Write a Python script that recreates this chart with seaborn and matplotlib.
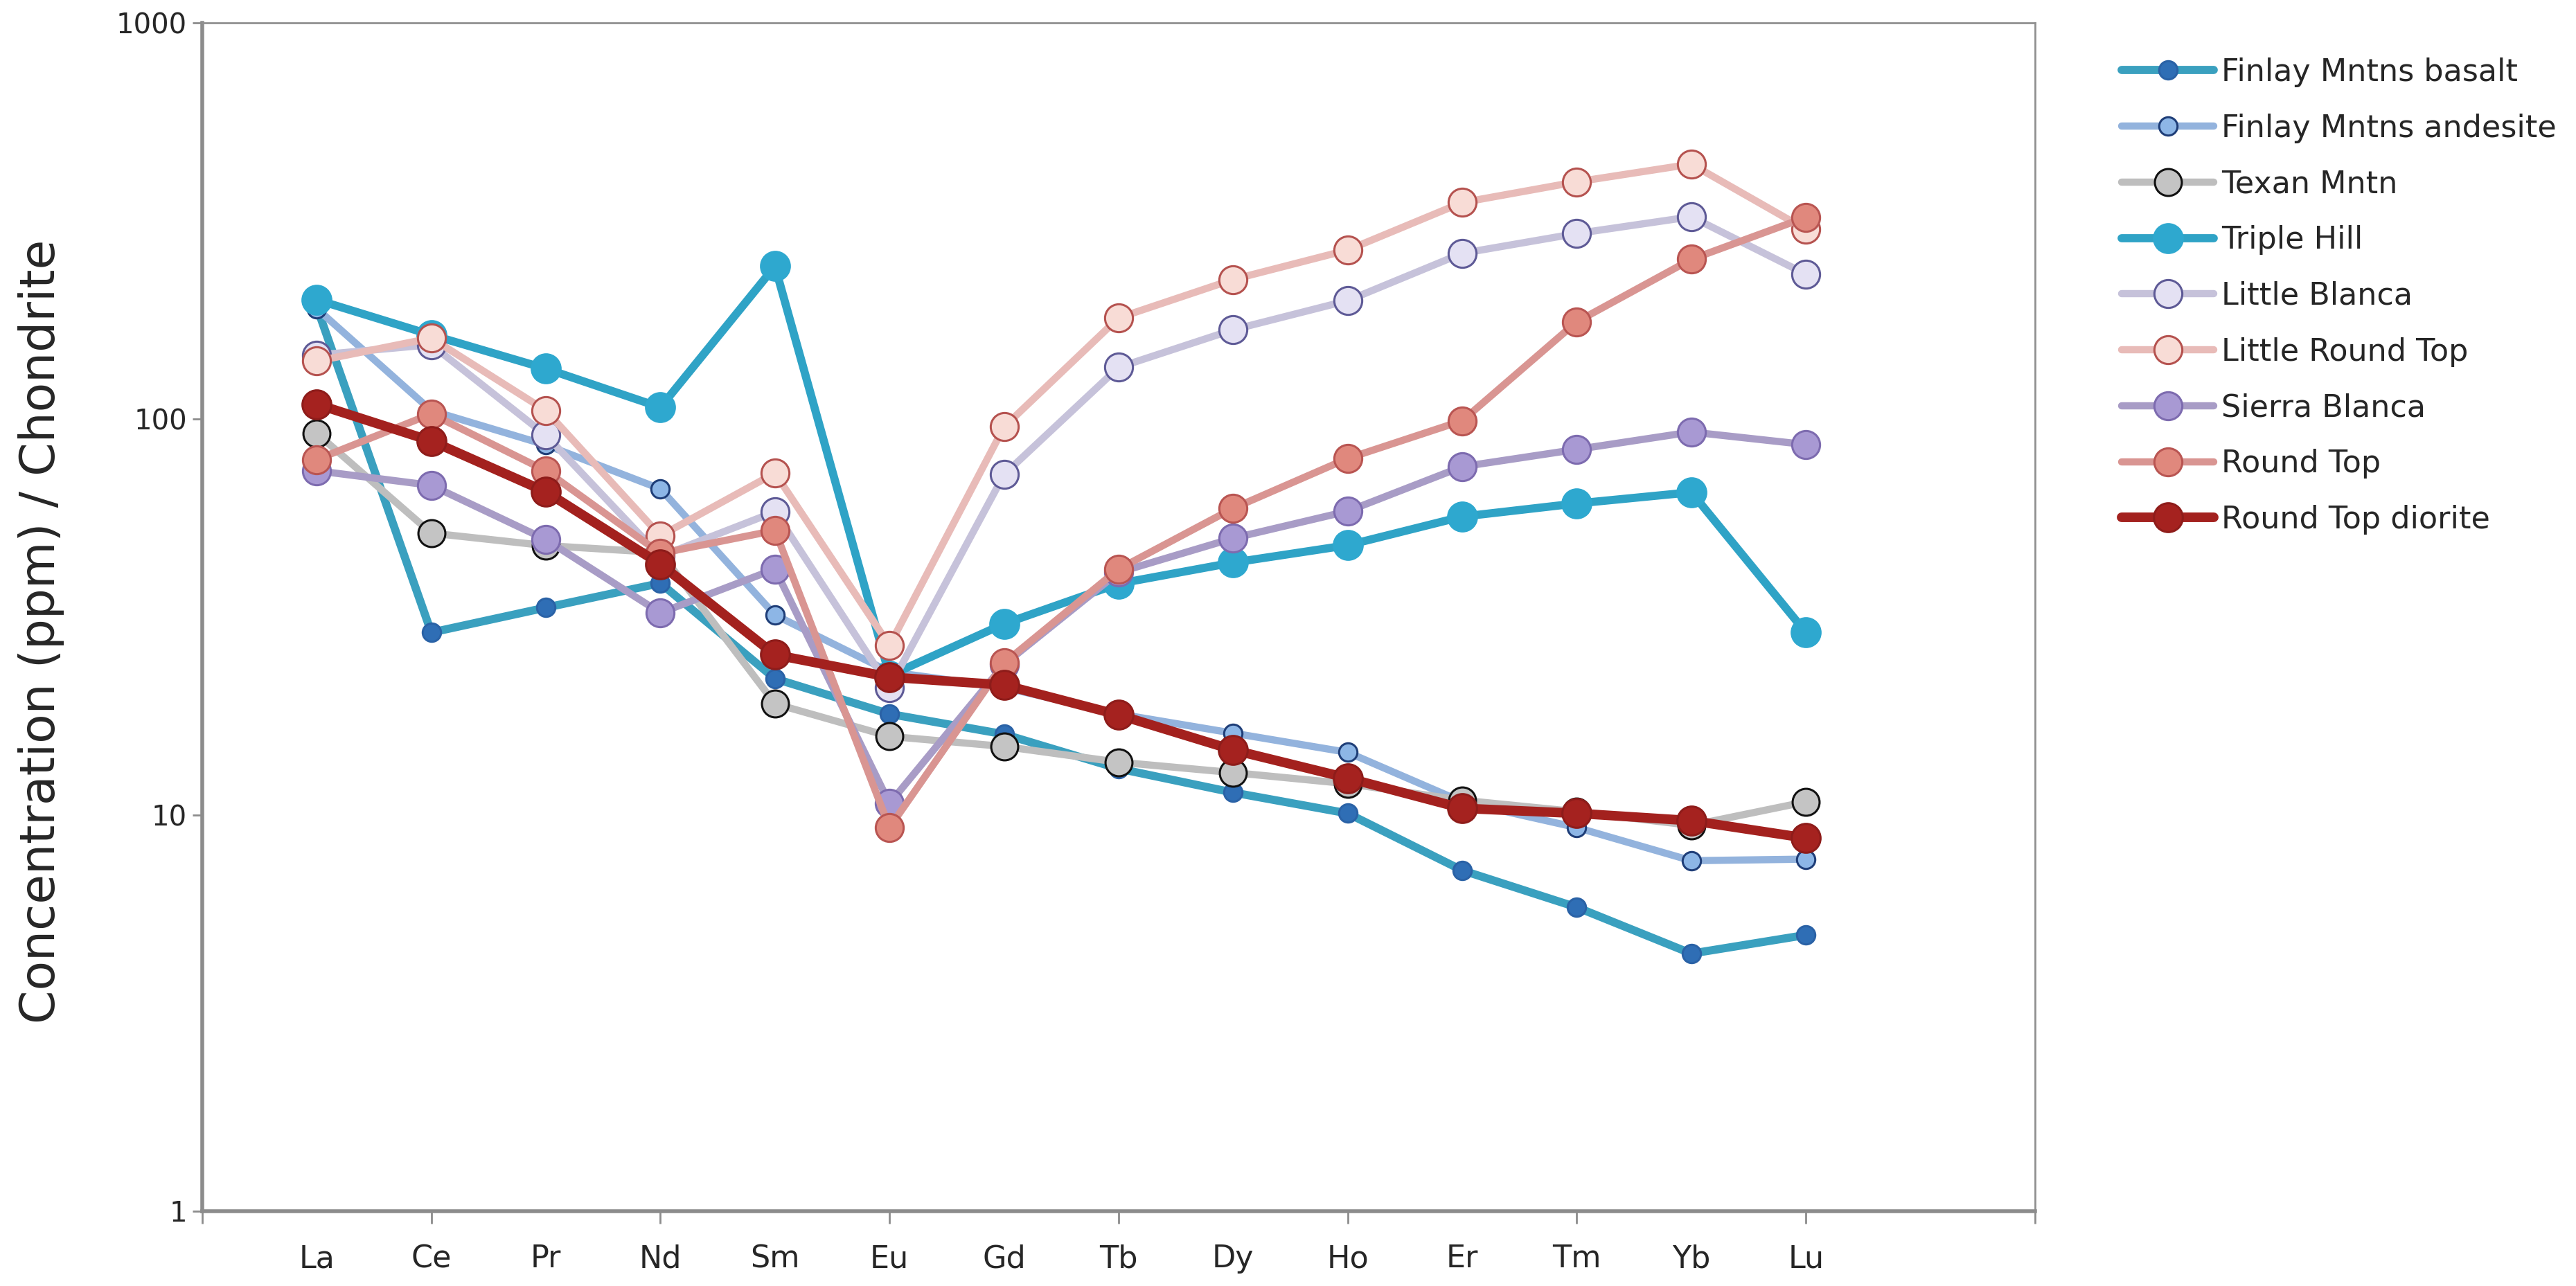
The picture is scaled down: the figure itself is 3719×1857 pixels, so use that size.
import seaborn as sns
import matplotlib.pyplot as plt
import numpy as np
from matplotlib.ticker import NullLocator, FixedLocator

# REE elements (chondrite-normalised spider diagram)
elements = ['La', 'Ce', 'Pr', 'Nd', 'Sm', 'Eu', 'Gd', 'Tb', 'Dy', 'Ho', 'Er', 'Tm', 'Yb', 'Lu']
positions = list(range(1, len(elements) + 1))

finlay_basalt = [192, 28.9, 33.4, 38.5, 22.1, 18.0, 16.0, 13.1, 11.4, 10.1, 7.25, 5.85, 4.47, 4.98]
finlay_andesite = [190, 105, 86, 66.6, 32, 23, 21, 18, 16.1, 14.4, 10.8, 9.3, 7.67, 7.74]
texan_mntn = [92, 51.5, 47.9, 46, 19.1, 15.8, 14.9, 13.6, 12.8, 12.0, 10.9, 10.2, 9.42, 10.8]
triple_hill = [200, 163, 134, 107, 243, 22.5, 30.4, 38.4, 43.4, 48, 56.7, 61.2, 65.3, 28.9]
little_blanca = [145, 154, 91, 45, 58.3, 21, 72.4, 135, 168, 199, 262, 294, 324, 232]
little_round_top = [140, 160, 105, 50.7, 73, 26.8, 95.5, 180, 225, 267, 352, 397, 440, 301]
sierra_blanca = [74, 68, 49.6, 32.4, 41.8, 10.7, 24, 41, 50, 58.5, 75.8, 83.8, 92.7, 86.2]
round_top = [79, 103, 74, 45.8, 52.3, 9.3, 24.2, 41.8, 59.5, 79.5, 99, 176, 253, 323]
round_top_diorite = [109, 88, 65.5, 43, 25.4, 22.3, 21.3, 17.9, 14.6, 12.4, 10.4, 10.1, 9.68, 8.75]

# name, values, line colour, marker face, marker edge, line width, marker size
series = [
    ('Finlay Mntns basalt', finlay_basalt, '#3AA0BF', '#2F6EB5', '#2A62A6', 8.5, 19),
    ('Finlay Mntns andesite', finlay_andesite, '#93B3DD', '#8DB6E6', '#1F3E78', 7.5, 19),
    ('Texan Mntn', texan_mntn, '#BEBEBE', '#C4C4C4', '#111111', 7.5, 28),
    ('Triple Hill', triple_hill, '#2FA3C6', '#2EA8CF', '#2EA8CF', 8.5, 30),
    ('Little Blanca', little_blanca, '#C6C2DA', '#E4E1F3', '#5E5A96', 7.5, 29),
    ('Little Round Top', little_round_top, '#E8BBB8', '#F8DCD6', '#B5524F', 7.5, 29),
    ('Sierra Blanca', sierra_blanca, '#A89CC6', '#A899D3', '#7D6BAF', 7.5, 29),
    ('Round Top', round_top, '#D99592', '#E0887D', '#B95552', 7.5, 29),
    ('Round Top diorite', round_top_diorite, '#A3211E', '#A5221F', '#8E1C1A', 10, 30),
]

sns.set_theme(style='white')
plt.rcParams['font.family'] = ['DejaVu Sans']

fig = plt.figure(figsize=(37.19, 18.57), dpi=100)
ax = fig.add_axes([0.0785, 0.0582, 0.7115, 0.924])

for i, (name, vals, lc, fc, ec, lw, ms) in enumerate(series):
    sns.lineplot(x=positions, y=vals, ax=ax, color=lc, linewidth=lw,
                 marker='o', markersize=ms, markerfacecolor=fc,
                 markeredgecolor=ec, markeredgewidth=2.2, label=name,
                 errorbar=None, sort=False, zorder=3 + i)

ax.set_yscale('log')
ax.set_ylim(1, 1000)
ax.set_xlim(0, 16)
ax.yaxis.set_major_locator(FixedLocator([1, 10, 100, 1000]))
ax.set_yticklabels(['1', '10', '100', '1000'])
ax.yaxis.set_minor_locator(NullLocator())

# element names under the points, tick marks every second position
ax.xaxis.remove_overlapping_locs = False
ax.set_xticks(positions)
ax.set_xticklabels(elements)
ax.set_xticks(np.arange(0, 17, 2), minor=True)
ax.tick_params(axis='x', which='major', length=0, pad=34, labelsize=32)
ax.tick_params(axis='x', which='minor', direction='out', length=13, width=2,
               color='#8C8C8C', bottom=True)
ax.tick_params(axis='y', which='major', direction='out', length=10, width=2, color='#8C8C8C',
               left=True, pad=6, labelsize=29)

for side in ['left', 'bottom']:
    ax.spines[side].set_color('#8C8C8C')
    ax.spines[side].set_linewidth(4)
for side in ['top', 'right']:
    ax.spines[side].set_color('#909090')
    ax.spines[side].set_linewidth(2)

ax.set_ylabel('Concentration (ppm) / Chondrite', fontsize=50)
ax.yaxis.set_label_coords(-0.075, 0.488)
ax.set_xlabel('')

ax.legend(loc='upper left', bbox_to_anchor=(0.8188, 0.965), bbox_transform=fig.transFigure,
          borderaxespad=0, frameon=False, fontsize=32, handlelength=3.0,
          handletextpad=0.25, labelspacing=0.85)

fig.savefig('out.png', dpi=100)
plt.close(fig)
